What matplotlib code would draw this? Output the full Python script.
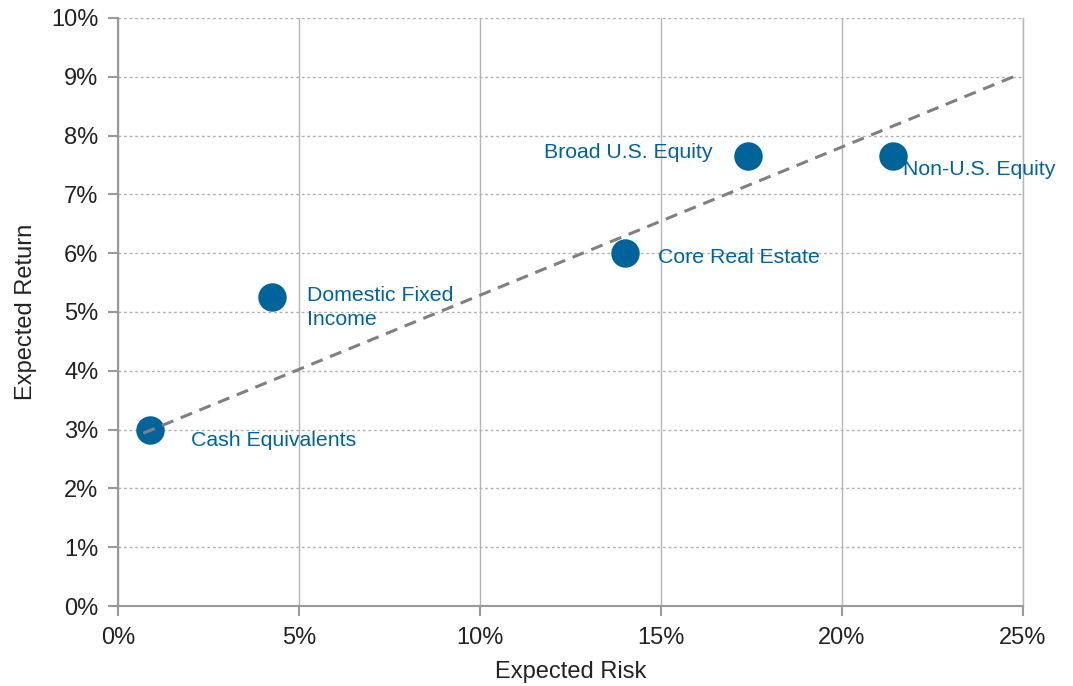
import matplotlib.pyplot as plt
from matplotlib.ticker import FuncFormatter

plt.rcParams['font.family'] = ['Liberation Sans', 'DejaVu Sans']

# asset classes: expected risk / return (%)
names = ['Cash Equivalents', 'Domestic Fixed\nIncome', 'Core Real Estate',
         'Broad U.S. Equity', 'Non-U.S. Equity']
risk = [0.88, 4.25, 14.0, 17.4, 21.4]
ret = [3.0, 5.25, 6.0, 7.65, 7.65]

# dashed trend line endpoints
line_x = [0.7, 24.85]
line_y = [2.94, 9.03]

# label offsets in pixels (dx, dy, ha)
offsets = [(41, -11, 'left'), (35, -10, 'left'), (33, -4, 'left'),
           (-35, 4, 'right'), (10, -13, 'left')]

BLUE = '#00639a'
GREY = '#808080'

fig = plt.figure(figsize=(10.73, 6.86), dpi=100)
ax = fig.add_axes([0.110, 0.1166, 0.8434, 0.8572])

ax.scatter(risk, ret, s=420, color=BLUE, zorder=3, linewidths=0)
ax.plot(line_x, line_y, color=GREY, ls=(0, (4, 2.6)), lw=2.2, zorder=4)

for n, x, y, (dx, dy, ha) in zip(names, risk, ret, offsets):
    ax.annotate(n, (x, y), xytext=(dx, dy), textcoords='offset pixels',
                ha=ha, va='center', fontsize=15.3, color=BLUE, linespacing=1.3)

ax.set_xlim(0, 25)
ax.set_ylim(0, 10)
ax.set_xticks(range(0, 26, 5))
ax.set_yticks(range(0, 11, 1))
pct = FuncFormatter(lambda v, p: f'{v:.0f}%')
ax.xaxis.set_major_formatter(pct)
ax.yaxis.set_major_formatter(pct)

ax.xaxis.grid(True, color='#b5b5b5', lw=1, ls='-')
ax.yaxis.grid(True, color='#b0b0b0', lw=1, ls=(0, (2, 2)))
ax.set_axisbelow(True)

ax.spines['top'].set_visible(False)
ax.spines['right'].set_color('#b5b5b5')
ax.spines['right'].set_linewidth(1)
for s in ['left', 'bottom']:
    ax.spines[s].set_color('#999999')
    ax.spines[s].set_linewidth(1.5)

ax.tick_params(axis='both', length=7, width=1.5, color='#999999',
               labelsize=17, labelcolor='#222222', pad=8)
ax.tick_params(axis='y', pad=7)

ax.set_xlabel('Expected Risk', fontsize=17, color='#222222', labelpad=9)
ax.set_ylabel('Expected Return', fontsize=17, color='#222222', labelpad=10)

fig.savefig('out.png', dpi=100)
